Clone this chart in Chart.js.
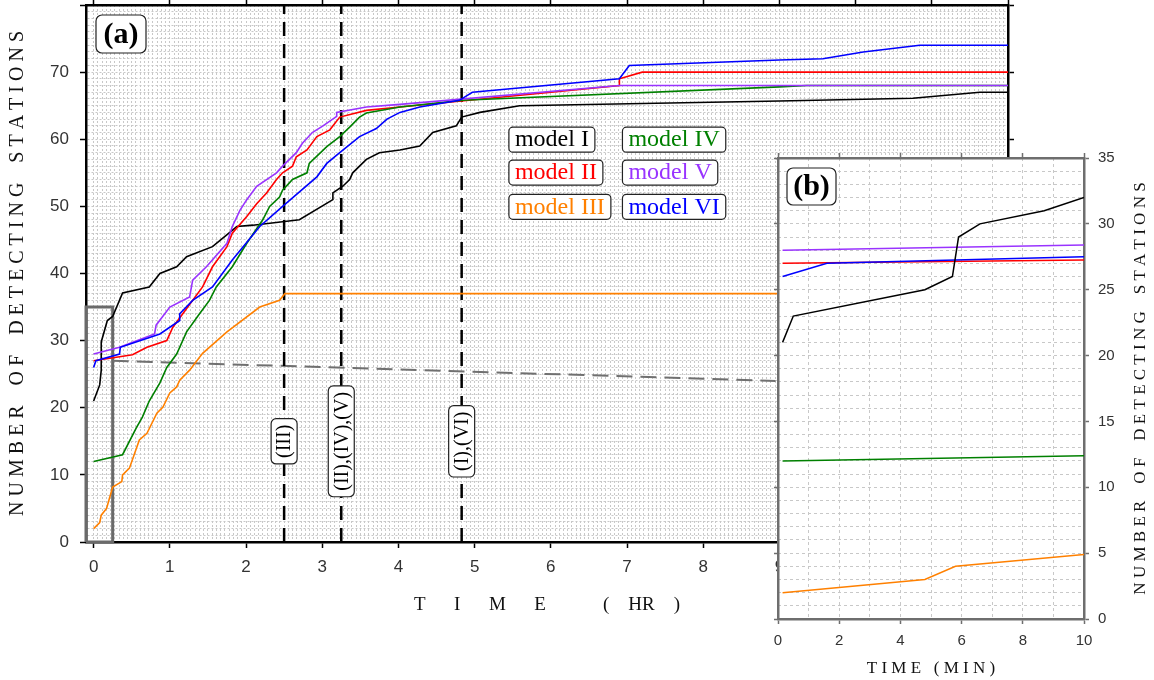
<!DOCTYPE html>
<html>
<head>
<meta charset="utf-8">
<script src="https://cdn.jsdelivr.net/npm/chart.js@4.4.1/dist/chart.umd.min.js"></script>
<style>
  html, body { margin: 0; padding: 0; background: #fff; }
  #wrap { position: relative; width: 1154px; height: 680px; overflow: hidden; }
  #main { position: absolute; left: 0; top: 0; }
  #inset { position: absolute; left: 764px; top: 146px; }
</style>
</head>
<body>
<div id="wrap">
  <canvas id="main" width="1154" height="680"></canvas>
  <canvas id="inset" width="390" height="534"></canvas>
</div>
<script>
// ---- panel (a): time in hours, number of detecting stations ----
const tI   = [0, 0.08, 0.1, 0.1, 0.18, 0.25, 0.38, 0.73, 0.87, 1.09, 1.22, 1.56, 1.88, 2.09, 2.7, 3.14, 3.14, 3.27, 3.36, 3.4, 3.58, 3.75, 4.02, 4.28, 4.45, 4.76, 4.83, 5.07, 5.59, 9.0, 10.75, 11.63, 12];
const nI   = [21, 23.4, 25.6, 29.8, 33, 33.6, 37.1, 38, 40, 41, 42.5, 44, 47, 47.2, 48, 51, 52, 53, 54, 55, 57, 58, 58.4, 59, 61, 62, 63.3, 64, 65, 65.7, 66.1, 67, 67];
const tII  = [0, 0.51, 0.7, 0.96, 1.04, 1.17, 1.43, 1.56, 1.75, 1.82, 2.01, 2.14, 2.27, 2.4, 2.48, 2.61, 2.66, 2.8, 2.93, 3.1, 3.23, 3.58, 4.02, 6.9, 6.9, 7.2, 12];
const nII  = [27, 27.9, 29, 30, 32, 34, 38, 41, 44, 46, 48.5, 50.4, 52, 54, 55, 56, 57.4, 58.4, 60.4, 61.4, 63.3, 64.3, 64.8, 68, 69, 70, 70];
const tIII = [0, 0.08, 0.1, 0.17, 0.25, 0.37, 0.38, 0.47, 0.6, 0.7, 0.83, 0.91, 1.0, 1.09, 1.13, 1.26, 1.43, 1.75, 2.18, 2.44, 2.51, 12];
const nIII = [2, 2.9, 4, 5, 8.2, 9, 10, 11, 15.2, 16.2, 19.2, 20.1, 22.2, 23.1, 24.1, 25.6, 28.1, 31.3, 35, 36, 37, 37];
const tIV  = [0, 0.38, 0.56, 0.64, 0.73, 0.87, 0.96, 1.09, 1.22, 1.39, 1.52, 1.61, 1.82, 2.01, 2.22, 2.31, 2.44, 2.48, 2.61, 2.8, 2.83, 3.06, 3.23, 3.36, 3.49, 3.58, 4.02, 4.84, 9.0, 9.36, 12];
const nIV  = [12, 13, 17, 18.6, 21, 23.7, 26, 28, 31.3, 34, 36, 38, 41, 44.5, 48, 50, 51.4, 52.4, 54, 55, 56.4, 58.9, 60.4, 61.8, 63.3, 63.9, 64.8, 65.8, 67.8, 68, 68];
const tV   = [0, 0.34, 0.8, 0.82, 1.0, 1.26, 1.3, 1.48, 1.75, 1.82, 1.92, 2.01, 2.14, 2.4, 2.48, 2.66, 2.74, 2.87, 3.01, 3.19, 3.19, 3.58, 4.02, 6.9, 12];
const nV   = [28, 29, 31, 32.3, 35, 36.5, 39, 41, 44.5, 47, 49.4, 51, 53, 55, 56, 58, 59.4, 61, 62, 63.4, 64, 64.8, 65.2, 68, 68];
const tVI  = [0, 0.03, 0.34, 0.35, 0.87, 1.13, 1.13, 1.3, 1.56, 1.82, 2.18, 2.48, 2.93, 3.06, 3.23, 3.49, 3.71, 3.85, 4.02, 4.28, 4.8, 4.97, 6.9, 7.03, 9.0, 9.57, 10.1, 10.84, 12];
const nVI  = [26, 27, 28, 29, 31, 33, 34, 36, 38, 42, 47, 50, 54.4, 56.4, 58, 60.4, 61.6, 63, 64, 64.8, 65.8, 67, 69, 71, 71.8, 72, 73, 74, 74];

// ---- panel (b): first ten minutes ----
const tmI   = [0.15, 0.5, 4.8, 5.7, 5.9, 6.6, 8.7, 10];
const nmI   = [21, 23, 25, 26, 29, 30, 31, 32];
const tmII  = [0.15, 10];
const nmII  = [27, 27.25];
const tmIII = [0.15, 4.8, 5.8, 10];
const nmIII = [2, 3, 4, 4.9];
const tmIV  = [0.15, 10];
const nmIV  = [12, 12.4];
const tmV   = [0.15, 10];
const nmV   = [28, 28.4];
const tmVI  = [0.15, 1.6, 10];
const nmVI  = [26, 27, 27.5];

const modelNames   = ['model I', 'model II', 'model III', 'model IV', 'model V', 'model VI'];
const modelColors  = ['#000000', '#ff0000', '#ff8000', '#008000', '#9933ff', '#0000ff'];

// arrival lines and their labels
const cutTimes  = [2.5, 3.25, 4.83];
const cutLabels = ['(III)', '(II),(IV),(V)', '(I),(VI)'];
const cutLabelAt = 15;

// zoomed window of panel (b) and the connector
const zoomBoxT = [-0.1, -0.1, 0.25, 0.25, -0.1];
const zoomBoxN = [0, 35, 35, 0, 0];
const linkT = [0.25, 8.95];
const linkN = [27, 24];

const xTicksHr = [0, 1, 2, 3, 4, 5, 6, 7, 8, 9, 10, 11, 12];
const yTicksMain = [0, 10, 20, 30, 40, 50, 60, 70, 80];

const pts = (t, n) => t.map((v, i) => ({x: v, y: n[i]}));
const isInt = v => Math.abs(v - Math.round(v)) < 1e-6;
const clear = 'rgba(0,0,0,0)';
const tickFont = {family: '"Liberation Sans", Arial, sans-serif', size: 17};
const serif = '"Liberation Serif", "Times New Roman", serif';

function roundBox(ctx, x, y, w, h, r) {
  ctx.beginPath();
  ctx.moveTo(x + r, y);
  ctx.arcTo(x + w, y, x + w, y + h, r);
  ctx.arcTo(x + w, y + h, x, y + h, r);
  ctx.arcTo(x, y + h, x, y, r);
  ctx.arcTo(x, y, x + w, y, r);
  ctx.closePath();
  ctx.fillStyle = '#fff';
  ctx.fill();
  ctx.lineWidth = 1.2;
  ctx.strokeStyle = '#222';
  ctx.stroke();
}

function noPad(s) { s.paddingTop = 0; s.paddingBottom = 0; s.paddingLeft = 0; s.paddingRight = 0; }

// labels, legend boxes and the panel tag of (a)
const annotateMain = {
  id: 'annotateMain',
  afterDatasetsDraw(chart) {
    const {ctx, chartArea: a, scales: {x, y}} = chart;
    ctx.save();
    roundBox(ctx, a.left + 10, a.top + 10, 50, 38, 6);
    ctx.fillStyle = '#000';
    ctx.font = 'bold 30px ' + serif;
    ctx.textAlign = 'center';
    ctx.textBaseline = 'middle';
    ctx.fillText('(a)', a.left + 35, a.top + 30);

    ctx.font = '20px ' + serif;
    cutTimes.forEach((t, i) => {
      const w = ctx.measureText(cutLabels[i]).width + 12;
      ctx.save();
      ctx.translate(x.getPixelForValue(t), y.getPixelForValue(cutLabelAt));
      ctx.rotate(-Math.PI / 2);
      roundBox(ctx, -w / 2, -13, w, 26, 5);
      ctx.fillStyle = '#000';
      ctx.fillText(cutLabels[i], 0, 1);
      ctx.restore();
    });

    // legend: two columns of boxed names
    const cols = [5.45, 6.94], rows = [61.8, 56.9, 51.8];
    ctx.font = '24px ' + serif;
    ctx.textAlign = 'left';
    modelNames.forEach((name, i) => {
      const bx = x.getPixelForValue(cols[Math.floor(i / 3)]);
      const by = y.getPixelForValue(rows[i % 3]);
      const w = ctx.measureText(name).width + 12;
      roundBox(ctx, bx, by, w, 25, 4);
      ctx.fillStyle = modelColors[i];
      ctx.fillText(name, bx + 6, by + 13);
    });
    ctx.restore();
  }
};

const curveSet = (t, n, i) => ({
  label: modelNames[i], data: pts(t, n), borderColor: modelColors[i],
  borderWidth: 1.6, pointRadius: 0, tension: 0, fill: false, order: 1
});

const mainGrid = '#c8c8c8';

new Chart(document.getElementById('main'), {
  type: 'line',
  data: {
    datasets: [
      curveSet(tVI, nVI, 5), curveSet(tV, nV, 4), curveSet(tIV, nIV, 3),
      curveSet(tIII, nIII, 2), curveSet(tII, nII, 1), curveSet(tI, nI, 0),
      ...cutTimes.map(t => ({
        data: [{x: t, y: 0}, {x: t, y: 80}], borderColor: '#000', borderWidth: 2.5,
        borderDash: [14, 8], pointRadius: 0, order: 5
      })),
      { data: pts(linkT, linkN), borderColor: '#707070', borderWidth: 2, borderDash: [16, 8],
        pointRadius: 0, order: 6 },
      { data: pts(zoomBoxT, zoomBoxN), borderColor: '#6a6a6a', borderWidth: 3,
        pointRadius: 0, clip: false, order: 6 }
    ]
  },
  options: {
    responsive: false, animation: false, events: [],
    layout: {padding: 0},
    plugins: {legend: {display: false}, tooltip: {enabled: false}},
    scales: {
      x: {
        type: 'linear', position: 'bottom', min: -0.1, max: 12,
        afterBuildTicks: s => {
          const t = [];
          for (let k = 0; k <= 12 * 18; k++) t.push({value: k / 18});
          s.ticks = t;
        },
        afterFit: s => { s.height = 138; noPad(s); },
        ticks: {autoSkip: false, maxRotation: 0, padding: 9, color: '#333', font: tickFont,
          callback: v => isInt(v) ? String(Math.round(v)) : ''},
        grid: {color: mainGrid, lineWidth: 1, tickLength: 6, tickWidth: 1.5,
          tickColor: c => (c.tick && isInt(c.tick.value)) ? '#000' : clear},
        border: {color: '#000', width: 2.5, dash: [2, 2]},
        title: {display: true, text: 'T      I      M      E            (    HR    )',
          color: '#111', font: {family: serif, size: 19}, padding: {top: 0, bottom: 64}}
      },
      y: {
        type: 'linear', position: 'left', min: 0, max: 80,
        afterBuildTicks: s => {
          const t = [];
          for (let k = 0; k <= 80; k++) t.push({value: k});
          s.ticks = t;
        },
        afterFit: s => { s.width = 86; noPad(s); },
        ticks: {autoSkip: false, padding: 11, color: '#333', font: tickFont,
          callback: v => (v % 10 === 0 && v < 80) ? String(v) : ''},
        grid: {color: mainGrid, lineWidth: 1, tickLength: 6, tickWidth: 1.5,
          tickColor: c => (c.tick && c.tick.value % 10 === 0) ? '#000' : clear},
        border: {color: '#000', width: 2.5, dash: [2, 2]},
        title: {display: true, text: 'N U M B E R    O F    D E T E C T I N G    S T A T I O N S',
          color: '#111', font: {family: serif, size: 20}, padding: {top: 6, bottom: 0}}
      },
      xTop: {
        type: 'linear', position: 'top', min: -0.1, max: 12,
        afterBuildTicks: s => { s.ticks = xTicksHr.map(v => ({value: v})); },
        afterFit: s => { s.height = 5; noPad(s); },
        ticks: {display: false},
        grid: {drawOnChartArea: false, tickLength: 6, tickWidth: 1.5, tickColor: '#000'},
        border: {color: '#000', width: 2.5}
      },
      yRight: {
        type: 'linear', position: 'right', min: 0, max: 80,
        afterBuildTicks: s => { s.ticks = yTicksMain.map(v => ({value: v})); },
        afterFit: s => { s.width = 146; noPad(s); },
        ticks: {display: false},
        grid: {drawOnChartArea: false, tickLength: 6, tickWidth: 1.5, tickColor: '#000'},
        border: {color: '#000', width: 2.5}
      }
    }
  },
  plugins: [annotateMain]
});

// ---- inset (b) ----
const insetGray = '#6e6e6e';
const annotateInset = {
  id: 'annotateInset',
  beforeDraw(chart) {
    const {ctx, chartArea: a} = chart;
    ctx.save();
    ctx.fillStyle = '#fff';
    ctx.fillRect(a.left, a.top, a.right - a.left, a.bottom - a.top);
    ctx.restore();
  },
  afterDraw(chart) {
    const {ctx, chartArea: a} = chart;
    ctx.save();
    roundBox(ctx, a.left + 9, a.top + 10, 49, 37, 6);
    ctx.fillStyle = '#000';
    ctx.font = 'bold 30px ' + serif;
    ctx.textAlign = 'center';
    ctx.textBaseline = 'middle';
    ctx.fillText('(b)', a.left + 33.5, a.top + 29);
    ctx.font = '17px ' + serif;
    ctx.fillStyle = '#111';
    ctx.translate(377, (a.top + a.bottom) / 2);
    ctx.rotate(-Math.PI / 2);
    ctx.fillText('N U M B E R    O F    D E T E C T I N G    S T A T I O N S', 0, 0);
    ctx.restore();
  }
};

const insetSet = (t, n, i) => ({
  data: pts(t, n), borderColor: modelColors[i], borderWidth: 1.5, pointRadius: 0, tension: 0
});
const insetFont = {family: '"Liberation Sans", Arial, sans-serif', size: 15};

new Chart(document.getElementById('inset'), {
  type: 'line',
  data: {
    datasets: [
      insetSet(tmI, nmI, 0), insetSet(tmVI, nmVI, 5), insetSet(tmII, nmII, 1),
      insetSet(tmV, nmV, 4), insetSet(tmIV, nmIV, 3), insetSet(tmIII, nmIII, 2)
    ]
  },
  options: {
    responsive: false, animation: false, events: [],
    layout: {padding: 0},
    plugins: {legend: {display: false}, tooltip: {enabled: false}},
    scales: {
      x: {
        type: 'linear', position: 'bottom', min: 0, max: 10,
        afterFit: s => { s.height = 61; noPad(s); },
        ticks: {stepSize: 1, autoSkip: false, maxRotation: 0, padding: 8, color: '#333', font: insetFont,
          callback: v => v % 2 === 0 ? String(v) : ''},
        grid: {color: '#c8c8c8', lineWidth: 1, tickLength: 5, tickWidth: 1.5,
          tickColor: c => (c.tick && c.tick.value % 2 === 0) ? insetGray : clear},
        border: {color: insetGray, width: 2.5, dash: [3, 3]},
        title: {display: true, text: 'T I M E   ( M I N )', color: '#111',
          font: {family: serif, size: 17}, padding: {top: 0, bottom: 1}}
      },
      y: {
        type: 'linear', position: 'right', min: 0, max: 35,
        afterFit: s => { s.width = 70; noPad(s); },
        ticks: {stepSize: 1, autoSkip: false, padding: 9, color: '#333', font: insetFont,
          callback: v => v % 5 === 0 ? String(v) : ''},
        grid: {color: '#c8c8c8', lineWidth: 1, tickLength: 5, tickWidth: 1.5,
          tickColor: c => (c.tick && c.tick.value % 5 === 0) ? insetGray : clear},
        border: {color: insetGray, width: 2.5, dash: [3, 3]}
      },
      xTop: {
        type: 'linear', position: 'top', min: 0, max: 10,
        afterFit: s => { s.height = 12; noPad(s); },
        ticks: {display: false, stepSize: 2},
        grid: {drawOnChartArea: false, tickLength: 5, tickWidth: 1.5, tickColor: insetGray},
        border: {color: insetGray, width: 2.5}
      },
      yLeft: {
        type: 'linear', position: 'left', min: 0, max: 35,
        afterFit: s => { s.width = 14; noPad(s); },
        ticks: {display: false, stepSize: 5},
        grid: {drawOnChartArea: false, tickLength: 4, tickWidth: 1.5, tickColor: insetGray},
        border: {color: insetGray, width: 2.5}
      }
    }
  },
  plugins: [annotateInset]
});
</script>
</body>
</html>
